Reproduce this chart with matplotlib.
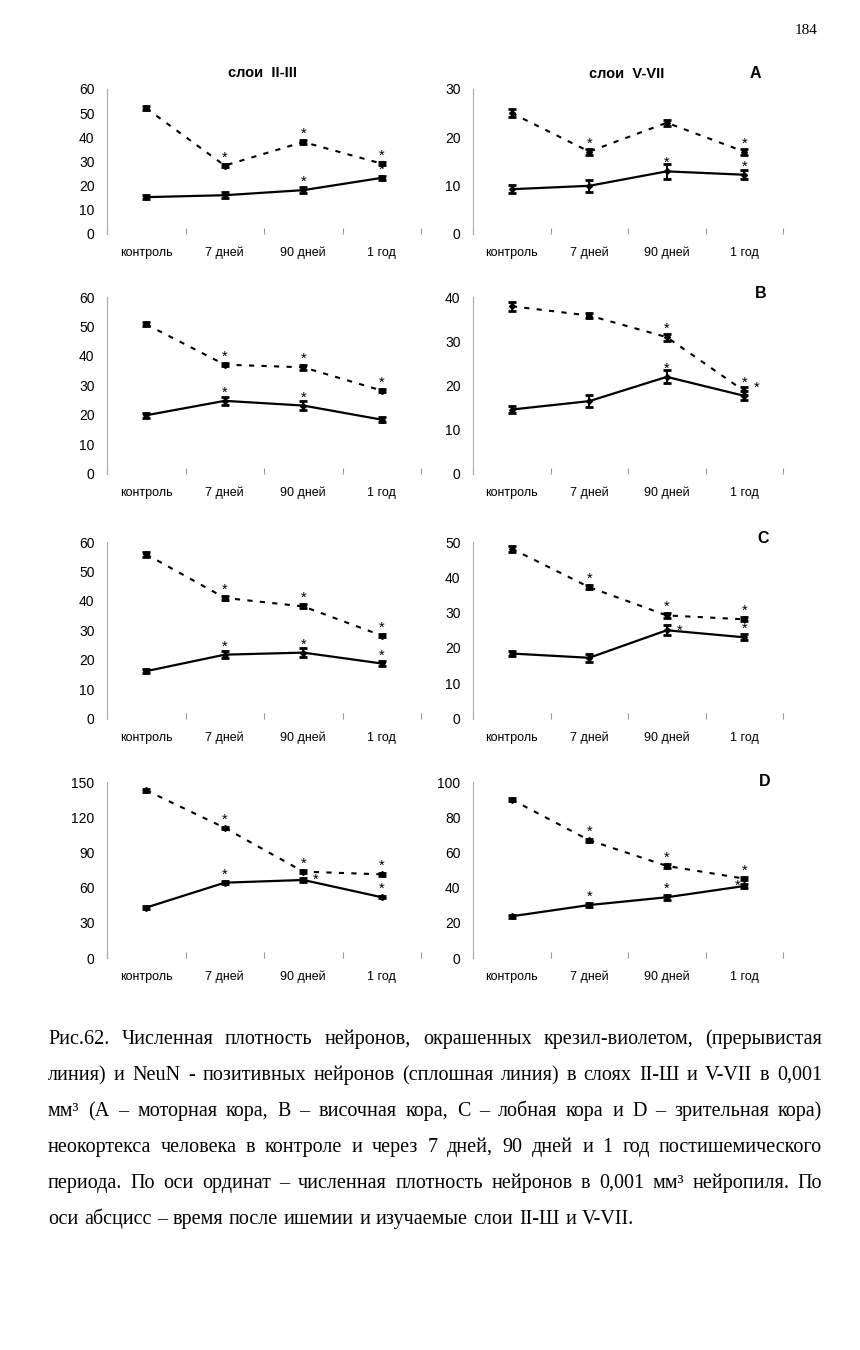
import matplotlib
matplotlib.use("Agg")
import matplotlib.pyplot as plt

W, H = 860, 1350
SANS = ["Liberation Sans", "DejaVu Sans"]
SERIF = ["Liberation Serif", "DejaVu Serif"]

categories = ["контроль", "7 дней", "90 дней", "1 год"]

# A — моторная кора
A23_cv, A23_cv_err = [52.0, 28.2, 38.0, 29.0], [0.8, 0.6, 0.7, 0.6]
A23_nn, A23_nn_err = [15.1, 15.9, 18.0, 23.1], [0.8, 1.2, 1.3, 0.9]
A57_cv, A57_cv_err = [25.0, 17.0, 23.0, 17.0], [0.8, 0.6, 0.6, 0.6]
A57_nn, A57_nn_err = [9.2, 9.9, 12.9, 12.2], [0.8, 1.2, 1.5, 0.9]
# B — височная кора
B23_cv, B23_cv_err = [50.7, 37.0, 36.1, 28.2], [0.7, 0.6, 0.8, 0.6]
B23_nn, B23_nn_err = [19.8, 24.7, 23.1, 18.3], [0.8, 1.3, 1.5, 0.8]
B57_cv, B57_cv_err = [37.9, 35.8, 30.9, 18.7], [1.0, 0.5, 0.8, 1.0]
B57_nn, B57_nn_err = [14.5, 16.4, 21.9, 17.6], [0.8, 1.3, 1.5, 1.0]
# C — лобная кора
C23_cv, C23_cv_err = [55.8, 41.0, 38.1, 28.2], [0.8, 0.6, 0.7, 0.6]
C23_nn, C23_nn_err = [16.1, 21.7, 22.4, 18.7], [0.8, 1.3, 1.4, 0.9]
C57_cv, C57_cv_err = [48.1, 37.2, 29.2, 28.1], [0.8, 0.6, 0.8, 0.6]
C57_nn, C57_nn_err = [18.4, 17.2, 25.0, 23.0], [0.8, 1.2, 1.4, 0.8]
# D — зрительная кора
D23_cv, D23_cv_err = [142.9, 110.9, 73.6, 71.3], [1.0, 1.0, 1.5, 1.0]
D23_nn, D23_nn_err = [43.0, 64.2, 66.5, 51.8], [1.0, 1.5, 1.5, 1.0]
D57_cv, D57_cv_err = [90.0, 66.9, 52.3, 45.1], [0.8, 0.8, 0.9, 0.9]
D57_nn, D57_nn_err = [23.7, 30.1, 34.5, 40.9], [0.8, 1.2, 1.4, 1.0]

# significance marks: "" none, u above, r right, ur up-right, ul up-left
A23_cv_sig, A23_nn_sig = ["", "u", "u", "u"], ["", "", "u", "u"]
A57_cv_sig, A57_nn_sig = ["", "u", "", "u"], ["", "", "u", "u"]
B23_cv_sig, B23_nn_sig = ["", "u", "u", "u"], ["", "u", "u", ""]
B57_cv_sig, B57_nn_sig = ["", "", "u", "u"], ["", "", "u", "ur"]
C23_cv_sig, C23_nn_sig = ["", "u", "u", "u"], ["", "u", "u", "u"]
C57_cv_sig, C57_nn_sig = ["", "u", "u", "u"], ["", "", "r", "u"]
D23_cv_sig, D23_nn_sig = ["", "u", "u", "u"], ["", "u", "r", "u"]
D57_cv_sig, D57_nn_sig = ["", "u", "u", "u"], ["", "u", "u", "ul"]

y_max = {"A23": 60, "A57": 30, "B23": 60, "B57": 40,
         "C23": 60, "C57": 50, "D23": 150, "D57": 100}
y_step = {"A23": 10, "A57": 10, "B23": 10, "B57": 10,
          "C23": 10, "C57": 10, "D23": 30, "D57": 20}

panels = [
    ("A23", A23_cv, A23_cv_err, A23_cv_sig, A23_nn, A23_nn_err, A23_nn_sig),
    ("A57", A57_cv, A57_cv_err, A57_cv_sig, A57_nn, A57_nn_err, A57_nn_sig),
    ("B23", B23_cv, B23_cv_err, B23_cv_sig, B23_nn, B23_nn_err, B23_nn_sig),
    ("B57", B57_cv, B57_cv_err, B57_cv_sig, B57_nn, B57_nn_err, B57_nn_sig),
    ("C23", C23_cv, C23_cv_err, C23_cv_sig, C23_nn, C23_nn_err, C23_nn_sig),
    ("C57", C57_cv, C57_cv_err, C57_cv_sig, C57_nn, C57_nn_err, C57_nn_sig),
    ("D23", D23_cv, D23_cv_err, D23_cv_sig, D23_nn, D23_nn_err, D23_nn_sig),
    ("D57", D57_cv, D57_cv_err, D57_cv_sig, D57_nn, D57_nn_err, D57_nn_sig),
]

caption_lines = [
    "Рис.62. Численная плотность нейронов, окрашенных крезил-виолетом, (прерывистая",
    "линия) и NeuN - позитивных нейронов (сплошная линия) в слоях II-Ш и V-VII в 0,001",
    "мм³  (А – моторная кора, В – височная кора, С – лобная кора и D – зрительная кора)",
    "неокортекса человека в контроле  и через 7 дней, 90 дней и 1 год  постишемического",
    "периода. По оси ординат – численная плотность нейронов в 0,001 мм³  нейропиля. По",
    "оси абсцисс – время после ишемии и изучаемые слои II-Ш и V-VII.",
]

COLS = [(107, 314), (473, 310)]
ROWS = [(89, 233.5), (297, 473.5), (542, 718.5), (782, 958)]
STAR_OFF = {"u": (0, 3), "r": (9, -3), "ur": (9, 3), "ul": (-5, -3)}
CAP_SIZE = 14.5


def px_rect(x0, w, top, bottom):
    return [x0 / W, 1 - bottom / H, w / W, (bottom - top) / H]


def fig_text(fig, x, y, s, **kw):
    return fig.text(x / W, 1 - y / H, s, **kw)


def draw_series(ax, vals, errs, sig, dashed):
    x = range(len(vals))
    if dashed:
        ax.plot(x, vals, color="black", lw=1.5, ls=(0, (2.5, 3.5)))
    else:
        ax.plot(x, vals, color="black", lw=1.6)
    ax.errorbar(x, vals, yerr=errs, fmt="D", ms=3, color="black",
                ecolor="black", elinewidth=1.4, capsize=2.8, capthick=2.0)
    for i, code in enumerate(sig):
        if code:
            ax.annotate("*", (i, vals[i]), xytext=STAR_OFF[code],
                        textcoords="offset points", ha="center", va="baseline",
                        fontsize=10.5, family=SANS)


def draw_panel(ax, key, cv, cv_err, cv_sig, nn, nn_err, nn_sig):
    draw_series(ax, cv, cv_err, cv_sig, dashed=True)
    draw_series(ax, nn, nn_err, nn_sig, dashed=False)
    ax.set_xlim(-0.5, 3.5)
    ax.set_ylim(0, y_max[key])
    ax.set_yticks(range(0, y_max[key] + 1, y_step[key]))
    ax.set_xticks(range(len(categories)))
    ax.set_xticklabels(categories, fontsize=9, family=SANS)
    for lab in ax.get_xticklabels():
        lab.set_verticalalignment("baseline")
    ax.set_xticks([-0.5, 0.5, 1.5, 2.5, 3.5], minor=True)
    ax.tick_params(axis="x", which="major", length=0, pad=16)
    ax.tick_params(axis="x", which="minor", length=4, direction="in",
                   color="#999999", width=0.8)
    ax.tick_params(axis="y", length=0, pad=9, labelsize=10)
    for lab in ax.get_yticklabels():
        lab.set_family(SANS)
    for side in ("top", "right", "bottom"):
        ax.spines[side].set_visible(False)
    ax.spines["left"].set_color("#aaaaaa")
    ax.spines["left"].set_linewidth(0.8)
    ax.patch.set_alpha(0)


fig = plt.figure(figsize=(W / 100, H / 100), dpi=100)
fig.patch.set_facecolor("white")

for idx, (key, *series) in enumerate(panels):
    r, c = divmod(idx, 2)
    x0, w = COLS[c]
    top, bottom = ROWS[r]
    ax = fig.add_axes(px_rect(x0, w, top, bottom))
    draw_panel(ax, key, *series)

fig_text(fig, 263, 73, "слои  II-III", ha="center", va="center",
         fontsize=10.5, fontweight="bold", family=SANS)
fig_text(fig, 627, 74, "слои  V-VII", ha="center", va="center",
         fontsize=10.5, fontweight="bold", family=SANS)
for letter, lx, ly in [("A", 755, 74), ("B", 761, 294), ("C", 763, 539), ("D", 765, 781)]:
    fig_text(fig, lx, ly, letter, ha="center", va="center",
             fontsize=11.5, fontweight="bold", family=SANS)

fig_text(fig, 806, 30, "184", ha="center", va="center", fontsize=11, family=SERIF)

# justified caption, words share a common baseline
renderer = fig.canvas.get_renderer()
X_LEFT, X_RIGHT = 48, 822
for n, line in enumerate(caption_lines):
    y = 1044 + 36 * n
    words = line.split()
    texts = [fig_text(fig, 0, y, wd, ha="left", va="baseline",
                      fontsize=CAP_SIZE, family=SERIF) for wd in words]
    widths = [t.get_window_extent(renderer).width for t in texts]
    if n < len(caption_lines) - 1 and len(words) > 1:
        gap = (X_RIGHT - X_LEFT - sum(widths)) / (len(words) - 1)
    else:
        gap = renderer.points_to_pixels(CAP_SIZE) * 0.28
    xpos = X_LEFT
    for t, wdt in zip(texts, widths):
        t.set_x(xpos / W)
        xpos += wdt + gap

fig.savefig("out.png", dpi=100)
